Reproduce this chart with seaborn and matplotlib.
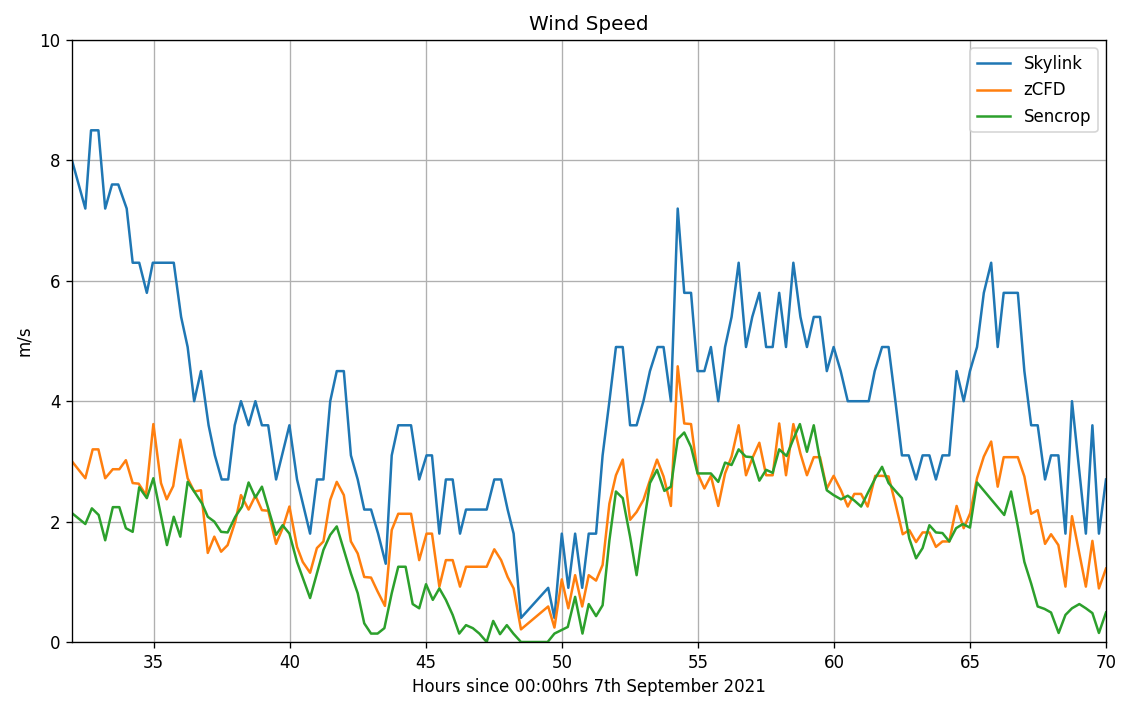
import matplotlib
matplotlib.use("Agg")
import matplotlib.pyplot as plt
import seaborn as sns
import pandas as pd

# Skylink station (hours since 00:00 7 Sep 2021, m/s)
skylink_hours = [32.0, 32.49, 32.70, 32.97, 33.22, 33.47, 33.70, 34.01, 34.23, 34.47,
                 34.75, 34.97, 35.74, 36.01, 36.25, 36.49, 36.74, 37.02, 37.25, 37.50,
                 37.74, 37.98, 38.21, 38.49, 38.74, 38.98, 39.21, 39.50, 39.99, 40.27,
                 40.75, 41.0, 41.24, 41.49, 41.73, 41.99, 42.25, 42.5, 42.74, 42.99,
                 43.25, 43.53, 43.75, 43.99, 44.46, 44.76, 45.03, 45.23, 45.50, 45.74,
                 45.99, 46.26, 46.48, 47.24, 47.52, 47.77, 48.01, 48.23, 48.50, 49.50,
                 49.73, 50.0, 50.24, 50.49, 50.75, 50.99, 51.26, 51.50, 51.75, 51.99,
                 52.24, 52.51, 52.75, 53.0, 53.24, 53.52, 53.74, 54.01, 54.26, 54.50,
                 54.75, 54.99, 55.24, 55.48, 55.75, 56.0, 56.24, 56.50, 56.77, 57.0,
                 57.26, 57.51, 57.75, 57.99, 58.24, 58.51, 58.77, 59.01, 59.26, 59.49,
                 59.74, 59.99, 60.25, 60.51, 61.28, 61.5, 61.77, 62.01, 62.26, 62.50,
                 62.75, 63.02, 63.26, 63.51, 63.75, 63.99, 64.24, 64.51, 64.77, 65.0,
                 65.26, 65.51, 65.78, 66.02, 66.24, 66.76, 67.0, 67.25, 67.49, 67.76,
                 67.98, 68.25, 68.51, 68.75, 69.26, 69.50, 69.74, 70.0]
skylink_speed = [8.0, 7.2, 8.5, 8.5, 7.2, 7.6, 7.6, 7.2, 6.3, 6.3,
                 5.8, 6.3, 6.3, 5.4, 4.9, 4.0, 4.5, 3.6, 3.1, 2.7,
                 2.7, 3.6, 4.0, 3.6, 4.0, 3.6, 3.6, 2.7, 3.6, 2.7,
                 1.8, 2.7, 2.7, 4.0, 4.5, 4.5, 3.1, 2.7, 2.2, 2.2,
                 1.8, 1.3, 3.1, 3.6, 3.6, 2.7, 3.1, 3.1, 1.8, 2.7,
                 2.7, 1.8, 2.2, 2.2, 2.7, 2.7, 2.2, 1.8, 0.4, 0.9,
                 0.4, 1.8, 0.9, 1.8, 0.9, 1.8, 1.8, 3.1, 4.0, 4.9,
                 4.9, 3.6, 3.6, 4.0, 4.5, 4.9, 4.9, 4.0, 7.2, 5.8,
                 5.8, 4.5, 4.5, 4.9, 4.0, 4.9, 5.4, 6.3, 4.9, 5.4,
                 5.8, 4.9, 4.9, 5.8, 4.9, 6.3, 5.4, 4.9, 5.4, 5.4,
                 4.5, 4.9, 4.5, 4.0, 4.0, 4.5, 4.9, 4.9, 4.0, 3.1,
                 3.1, 2.7, 3.1, 3.1, 2.7, 3.1, 3.1, 4.5, 4.0, 4.5,
                 4.9, 5.8, 6.3, 4.9, 5.8, 5.8, 4.5, 3.6, 3.6, 2.7,
                 3.1, 3.1, 1.8, 4.0, 1.8, 3.6, 1.8, 2.7]

# zCFD model output
zcfd_hours = [32.0, 32.49, 32.76, 32.97, 33.22, 33.5, 33.74, 33.98, 34.23, 34.45,
              34.72, 34.99, 35.27, 35.48, 35.72, 35.98, 36.25, 36.49, 36.74, 36.99,
              37.23, 37.48, 37.72, 38.0, 38.21, 38.49, 38.74, 38.98, 39.21, 39.50,
              39.75, 39.99, 40.27, 40.48, 40.75, 41.0, 41.24, 41.49, 41.73, 41.99,
              42.25, 42.5, 42.74, 42.99, 43.23, 43.5, 43.75, 43.99, 44.46, 44.76,
              45.03, 45.23, 45.50, 45.74, 45.99, 46.26, 46.48, 47.24, 47.52, 47.77,
              48.01, 48.23, 48.50, 49.50, 49.73, 50.0, 50.24, 50.49, 50.75, 50.99,
              51.26, 51.50, 51.75, 51.99, 52.24, 52.51, 52.75, 53.0, 53.24, 53.5,
              53.74, 54.01, 54.26, 54.50, 54.75, 54.99, 55.24, 55.48, 55.75, 56.0,
              56.24, 56.50, 56.77, 57.0, 57.26, 57.51, 57.75, 57.99, 58.24, 58.51,
              58.77, 59.01, 59.26, 59.49, 59.74, 59.99, 60.26, 60.51, 60.75, 61.0,
              61.24, 61.52, 61.77, 62.01, 62.26, 62.53, 62.77, 63.02, 63.26, 63.51,
              63.75, 63.99, 64.24, 64.51, 64.77, 65.01, 65.26, 65.51, 65.78, 66.02,
              66.24, 66.76, 67.0, 67.25, 67.49, 67.76, 67.98, 68.25, 68.51, 68.75,
              69.02, 69.26, 69.50, 69.74, 70.0]
zcfd_speed = [3.0, 2.72, 3.2, 3.2, 2.72, 2.87, 2.87, 3.02, 2.64, 2.63,
              2.44, 3.62, 2.64, 2.37, 2.59, 3.36, 2.72, 2.5, 2.52, 1.48,
              1.75, 1.5, 1.61, 2.0, 2.44, 2.2, 2.43, 2.19, 2.18, 1.63,
              1.9, 2.25, 1.58, 1.33, 1.15, 1.56, 1.67, 2.36, 2.66, 2.44,
              1.67, 1.47, 1.08, 1.07, 0.84, 0.6, 1.86, 2.13, 2.13, 1.36,
              1.8, 1.8, 0.92, 1.36, 1.36, 0.92, 1.25, 1.25, 1.54, 1.36,
              1.08, 0.89, 0.21, 0.59, 0.24, 1.04, 0.56, 1.11, 0.59, 1.11,
              1.02, 1.28, 2.3, 2.77, 3.03, 2.03, 2.16, 2.36, 2.69, 3.03,
              2.75, 2.26, 4.58, 3.63, 3.62, 2.8, 2.55, 2.76, 2.26, 2.8,
              3.08, 3.6, 2.77, 3.05, 3.31, 2.77, 2.77, 3.63, 2.77, 3.62,
              3.13, 2.77, 3.07, 3.07, 2.55, 2.76, 2.52, 2.25, 2.46, 2.46,
              2.25, 2.76, 2.76, 2.75, 2.3, 1.79, 1.86, 1.66, 1.82, 1.82,
              1.58, 1.67, 1.67, 2.26, 1.89, 2.14, 2.72, 3.08, 3.33, 2.58,
              3.07, 3.07, 2.75, 2.13, 2.19, 1.63, 1.79, 1.61, 0.92, 2.09,
              1.47, 0.92, 1.68, 0.89, 1.22]

# Sencrop station
sencrop_hours = [32.0, 32.49, 32.73, 32.98, 33.22, 33.5, 33.74, 33.98, 34.23, 34.47,
                 34.75, 34.99, 35.25, 35.49, 35.74, 35.98, 36.25, 36.49, 36.78, 36.99,
                 37.23, 37.48, 37.72, 38.0, 38.25, 38.49, 38.74, 38.98, 39.25, 39.5,
                 39.74, 39.99, 40.27, 40.75, 41.0, 41.24, 41.49, 41.73, 41.99, 42.25,
                 42.5, 42.74, 42.99, 43.23, 43.48, 43.75, 43.99, 44.26, 44.52, 44.76,
                 45.01, 45.26, 45.50, 45.74, 45.99, 46.23, 46.48, 46.73, 46.97, 47.24,
                 47.48, 47.73, 47.98, 48.22, 48.50, 49.48, 49.73, 50.0, 50.22, 50.49,
                 50.76, 50.99, 51.26, 51.50, 51.75, 51.99, 52.24, 52.51, 52.75, 53.0,
                 53.24, 53.5, 53.77, 54.01, 54.26, 54.50, 54.75, 54.99, 55.24, 55.48,
                 55.75, 56.0, 56.24, 56.50, 56.76, 56.99, 57.26, 57.51, 57.75, 57.99,
                 58.26, 58.51, 58.75, 59.01, 59.26, 59.49, 59.74, 59.99, 60.26, 60.51,
                 60.75, 61.0, 61.24, 61.52, 61.77, 62.01, 62.26, 62.50, 62.77, 63.02,
                 63.26, 63.51, 63.75, 63.99, 64.24, 64.49, 64.74, 65.0, 65.26, 66.26,
                 66.51, 66.76, 67.0, 67.25, 67.49, 67.74, 67.98, 68.26, 68.51, 68.75,
                 69.02, 69.26, 69.50, 69.74, 70.0]
sencrop_speed = [2.14, 1.96, 2.22, 2.11, 1.69, 2.24, 2.24, 1.89, 1.83, 2.57,
                 2.39, 2.72, 2.14, 1.61, 2.08, 1.75, 2.66, 2.5, 2.3, 2.08,
                 2.0, 1.83, 1.82, 2.08, 2.25, 2.65, 2.4, 2.58, 2.16, 1.78,
                 1.94, 1.8, 1.33, 0.73, 1.14, 1.53, 1.78, 1.92, 1.53, 1.14,
                 0.81, 0.31, 0.14, 0.14, 0.23, 0.81, 1.25, 1.25, 0.63, 0.56,
                 0.96, 0.7, 0.89, 0.7, 0.45, 0.14, 0.28, 0.23, 0.14, 0.0,
                 0.35, 0.13, 0.28, 0.14, 0.0, 0.0, 0.14, 0.2, 0.25, 0.75,
                 0.14, 0.63, 0.43, 0.61, 1.69, 2.5, 2.39, 1.75, 1.11, 1.92,
                 2.64, 2.86, 2.51, 2.58, 3.37, 3.48, 3.24, 2.8, 2.8, 2.8,
                 2.66, 2.98, 2.94, 3.2, 3.08, 3.07, 2.68, 2.86, 2.81, 3.2,
                 3.09, 3.37, 3.62, 3.16, 3.6, 3.02, 2.52, 2.44, 2.37, 2.43,
                 2.35, 2.25, 2.47, 2.72, 2.91, 2.64, 2.51, 2.39, 1.72, 1.39,
                 1.56, 1.94, 1.82, 1.81, 1.67, 1.89, 1.96, 1.9, 2.65, 2.11,
                 2.5, 1.92, 1.33, 0.97, 0.59, 0.55, 0.49, 0.15, 0.45, 0.56,
                 0.63, 0.56, 0.48, 0.15, 0.49]

series = [
    ("Skylink", skylink_hours, skylink_speed),
    ("zCFD", zcfd_hours, zcfd_speed),
    ("Sencrop", sencrop_hours, sencrop_speed),
]
palette = sns.color_palette("tab10", 3)

DPI = 120
W, H = 1121, 704
fig = plt.figure(figsize=(W / DPI, H / DPI), dpi=DPI)
ax = fig.add_axes([72 / W, 1 - 642 / H, (1106 - 72) / W, (642 - 40) / H])

for (name, hrs, spd), col in zip(series, palette):
    df = pd.DataFrame({"hours": hrs, "speed": spd})
    sns.lineplot(data=df, x="hours", y="speed", ax=ax, color=col, label=name,
                 linewidth=1.5, estimator=None, sort=False)

ax.set_xlim(32, 70)
ax.set_ylim(0, 10)
ax.set_xticks([35, 40, 45, 50, 55, 60, 65, 70])
ax.set_yticks([0, 2, 4, 6, 8, 10])
ax.grid(True, color="#b0b0b0", linewidth=0.8)
ax.set_axisbelow(True)
ax.set_title("Wind Speed", fontsize=12)
ax.set_xlabel("Hours since 00:00hrs 7th September 2021", fontsize=10)
ax.set_ylabel("m/s", fontsize=10)
ax.legend(loc="upper right", fontsize=10)

fig.savefig("out.png", dpi=DPI)
